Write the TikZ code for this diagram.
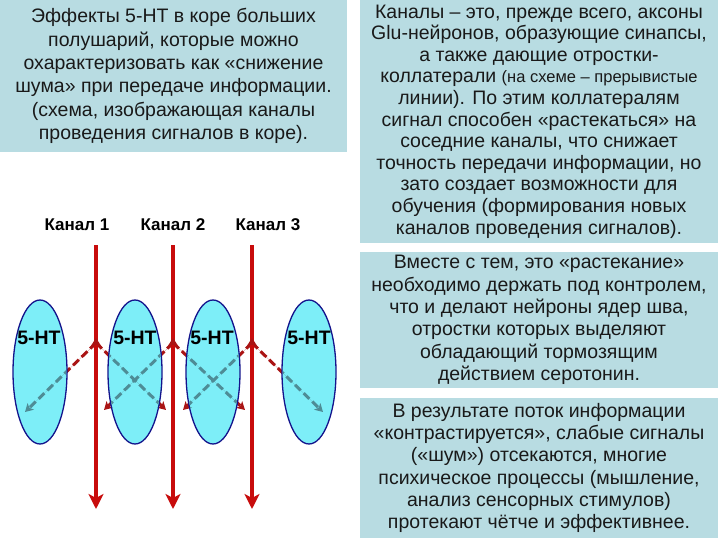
\documentclass[tikz,border=0pt]{standalone}
\usepackage{fontspec}
\setmainfont{Liberation Sans}
\usetikzlibrary{arrows.meta,shapes.geometric}
\definecolor{boxblue}{RGB}{184,220,226}
\definecolor{chred}{RGB}{200,12,12}
\definecolor{dashred}{RGB}{170,20,20}
\definecolor{dashteal}{RGB}{78,140,150}
\definecolor{ellfill}{RGB}{125,238,248}
\definecolor{ellline}{RGB}{20,20,140}
\definecolor{txt}{RGB}{25,25,25}
\tikzset{
  infobox/.style={rectangle, fill=boxblue, inner sep=0pt, align=center, text=txt,
    font=\fontsize{19.5}{21.6}\selectfont},
  chlabel/.style={font=\bfseries\fontsize{17}{20}\selectfont, inner sep=0pt},
  htlabel/.style={font=\bfseries\fontsize{19.5}{20}\selectfont, inner sep=0pt},
  cell/.style={ellipse, draw=ellline, line width=1.3pt, fill=ellfill, minimum width=54pt, minimum height=144pt, inner sep=0pt},
  channel/.style={draw=chred, line width=4pt, -{Stealth[length=15pt,width=15pt,inset=4pt]}},
  collat/.style={line width=3pt, dash pattern=on 8pt off 4pt, -{Stealth[length=8pt,width=9pt,inset=2pt]}},
  apex/.style={fill=dashred},
}
\begin{document}
\begin{tikzpicture}[x=1pt,y=-1pt]
\useasboundingbox (0,0) rectangle (720,540);
\fill[white] (0,0) rectangle (720,540);

% text boxes
\node[infobox, minimum width=347pt, minimum height=152pt, font=\fontsize{19.5}{23.3}\selectfont] (t1) at (173.5,76)
{Эффекты 5-НТ в коре больших\\полушарий, которые можно\\охарактеризовать как «снижение\\шума» при передаче информации.\\(схема, изображающая каналы\\проведения сигналов в коре).};
\node[infobox, minimum width=358pt, minimum height=243pt] (t2) at (539,121.5)
{Каналы – это, прежде всего, аксоны\\Glu-нейронов, образующие синапсы,\\а также дающие отростки-\\коллатерали {\fontsize{16.5}{21.6}\selectfont (на схеме – прерывистые}\\линии). По этим коллатералям\\сигнал способен «растекаться» на\\соседние каналы, что снижает\\точность передачи информации, но\\зато создает возможности для\\обучения (формирования новых\\каналов проведения сигналов).};
\node[infobox, minimum width=358pt, minimum height=136pt, font=\fontsize{19.5}{22.4}\selectfont] (t3) at (539,320)
{Вместе с тем, это «растекание»\\необходимо держать под контролем,\\что и делают нейроны ядер шва,\\отростки которых выделяют\\обладающий тормозящим\\действием серотонин.};
\node[infobox, minimum width=358pt, minimum height=140pt, font=\fontsize{19.5}{22.2}\selectfont] (t4) at (539,468)
{В результате поток информации\\«контрастируется», слабые сигналы\\(«шум») отсекаются, многие\\психическое процессы (мышление,\\анализ сенсорных стимулов)\\протекают чётче и эффективнее.};

% channel labels
\node[chlabel] (k1) at (77,225) {Канал 1};
\node[chlabel] (k2) at (173,225) {Канал 2};
\node[chlabel] (k3) at (268,225) {Канал 3};

% coordinates
\coordinate (c1t) at (96,245); \coordinate (c1b) at (96,509);
\coordinate (c2t) at (173,245); \coordinate (c2b) at (173,509);
\coordinate (c3t) at (252,245); \coordinate (c3b) at (252,509);
\coordinate (a1) at (96,343);
\coordinate (a2) at (173,343);
\coordinate (a3) at (252,343);
\coordinate (e1end) at (25,412);
\coordinate (e2l) at (104,410);
\coordinate (e2r) at (166,410);
\coordinate (e3l) at (183,410);
\coordinate (e3r) at (245,410);
\coordinate (e4end) at (323,412);

% collaterals (red)
\foreach \s/\e in {a1/e1end, a1/e2r, a2/e2l, a2/e3r, a3/e3l, a3/e4end}
  \draw[collat, draw=dashred, fill=dashred] (\s) -- (\e);

% cells
\node[cell] (e1) at (40,372) {};
\node[cell] (e2) at (135,372) {};
\node[cell] (e3) at (213,372) {};
\node[cell] (e4) at (309,372) {};

% collaterals inside cells (teal)
\foreach \c in {e1,e2,e3,e4}{
  \begin{scope}
    \clip (\c.center) ellipse [x radius=26.2pt, y radius=71.2pt];
    \foreach \s/\e in {a1/e1end, a1/e2r, a2/e2l, a2/e3r, a3/e3l, a3/e4end}
      \draw[collat, draw=dashteal, fill=dashteal] (\s) -- (\e);
  \end{scope}
}

% 5-HT labels
\node[htlabel] (h1) at (39,338) {5-HT};
\node[htlabel] (h2) at (135,338) {5-HT};
\node[htlabel] (h3) at (212,338) {5-HT};
\node[htlabel] (h4) at (309,338) {5-HT};

% channels
\draw[channel] (c1t) -- (c1b);
\draw[channel] (c2t) -- (c2b);
\draw[channel] (c3t) -- (c3b);

% apex chevrons
\foreach \a in {a1,a2,a3}
  \fill[apex] ([yshift=5pt]\a) -- ++(6.5,10) -- ++(-6.5,-3.5) -- ++(-6.5,3.5) -- cycle;
\end{tikzpicture}
\end{document}
